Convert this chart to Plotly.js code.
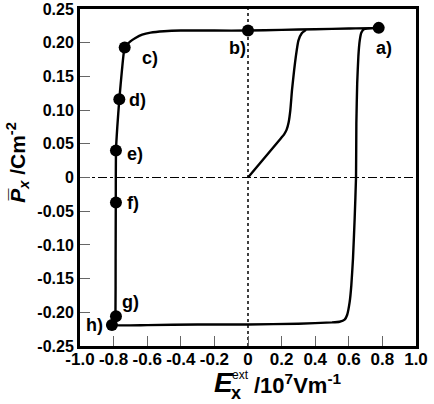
<!DOCTYPE html>
<html>
<head>
<meta charset="utf-8">
<script src="https://cdn.plot.ly/plotly-3.0.1.min.js"></script>
<style>
  html, body { margin: 0; padding: 0; background: #fff; }
  #chart { width: 434px; height: 404px; }
</style>
</head>
<body>
<div id="chart"></div>
<script>
// Hysteresis loop: polarization P_x versus applied field E_x^ext
// Outer loop, traversed a) -> b) -> ... -> h) -> lower branch -> back up to a)
const loopE = [0.78, 0.6, 0.4, 0.2, 0, -0.2, -0.4, -0.5, -0.58, -0.63, -0.67, -0.70, -0.734,
  -0.75, -0.766, -0.778, -0.786, -0.787, -0.788, -0.789, -0.792, -0.81,
  -0.6, -0.3, 0, 0.3, 0.5, 0.545, 0.575, 0.59, 0.605, 0.615, 0.625, 0.635, 0.643,
  0.645, 0.65, 0.657, 0.665, 0.675, 0.69, 0.78];
const loopP = [0.222, 0.221, 0.220, 0.219, 0.218, 0.218, 0.218, 0.217, 0.215, 0.212, 0.207, 0.202, 0.193,
  0.16, 0.116, 0.075, 0.040, -0.037, -0.12, -0.206, -0.214, -0.219,
  -0.219, -0.218, -0.218, -0.217, -0.215, -0.214, -0.211, -0.204, -0.185, -0.16, -0.12, -0.06, 0.0,
  0.08, 0.14, 0.18, 0.203, 0.215, 0.220, 0.222];

// Initial (virgin) curve starting at the origin
const virginE = [0, 0.195, 0.215, 0.23, 0.242, 0.252, 0.262, 0.275, 0.285, 0.30, 0.32, 0.345];
const virginP = [0, 0.058, 0.064, 0.071, 0.082, 0.10, 0.13, 0.16, 0.18, 0.203, 0.214, 0.219];

// Labelled states along the loop
const stateNames = ['a)', 'b)', 'c)', 'd)', 'e)', 'f)', 'g)', 'h)'];
const stateE = [0.778, 0, -0.734, -0.766, -0.786, -0.786, -0.786, -0.81];
const stateP = [0.222, 0.218, 0.193, 0.116, 0.040, -0.037, -0.206, -0.219];
// label placement (pixels) relative to each state
const labelDx = [5, -11, 25, 18, 19, 17, 15, -17];
const labelDy = [-20, -17, -11, -1, -3, -1, 14, 0];

// Axis ticks
const xTicks = [-1.0, -0.8, -0.6, -0.4, -0.2, 0, 0.2, 0.4, 0.6, 0.8, 1.0];
const xTickText = ['-1.0', '-0.8', '-0.6', '-0.4', '-0.2', '0', '0.2', '0.4', '0.6', '0.8', '1.0'];
const yTicks = [-0.25, -0.20, -0.15, -0.10, -0.05, 0, 0.05, 0.10, 0.15, 0.20, 0.25];
const yTickText = ['-0.25', '-0.20', '-0.15', '-0.10', '-0.05', '0', '0.05', '0.10', '0.15', '0.20', '0.25'];

const FONT = 'Liberation Sans, Arial, sans-serif';
const bold = s => '<b>' + s + '</b>';

const traces = [
  {
    x: loopE, y: loopP, mode: 'lines', type: 'scatter',
    line: { color: '#000', width: 2.4, shape: 'spline', smoothing: 0.4 },
    hoverinfo: 'skip'
  },
  {
    x: virginE, y: virginP, mode: 'lines', type: 'scatter',
    line: { color: '#000', width: 2.4, shape: 'spline', smoothing: 0.5 },
    hoverinfo: 'skip'
  },
  {
    x: stateE, y: stateP, mode: 'markers', type: 'scatter',
    marker: { color: '#000', size: 12 },
    text: stateNames, hoverinfo: 'text'
  }
];

const annotations = stateNames.map((name, i) => ({
  x: stateE[i], y: stateP[i], xref: 'x', yref: 'y',
  text: bold(name), showarrow: false,
  xshift: labelDx[i], yshift: labelDy[i],
  font: { family: FONT, size: 18, color: '#000', weight: 700 }
}));

// x-axis title: E with stacked sub/superscript, then the unit
annotations.push(
  { xref: 'paper', yref: 'paper', x: 0.392, y: -0.108, xanchor: 'left', yanchor: 'middle',
    text: '<b><i>E</i></b>', showarrow: false,
    font: { family: FONT, size: 28, color: '#000', weight: 700 } },
  { xref: 'paper', yref: 'paper', x: 0.442, y: -0.138, xanchor: 'left', yanchor: 'middle',
    text: '<b>x</b>', showarrow: false,
    font: { family: FONT, size: 18, color: '#000', weight: 700 } },
  { xref: 'paper', yref: 'paper', x: 0.446, y: -0.086, xanchor: 'left', yanchor: 'middle',
    text: 'ext', showarrow: false,
    font: { family: FONT, size: 12, color: '#000' } },
  { xref: 'paper', yref: 'paper', x: 0.512, y: -0.114, xanchor: 'left', yanchor: 'middle',
    text: '<b>/10<sup>7</sup>Vm<sup>-1</sup></b>', showarrow: false,
    font: { family: FONT, size: 22, color: '#000', weight: 700 } },
  // y-axis title
  { xref: 'paper', yref: 'paper', x: -0.185, y: 0.546, xanchor: 'center', yanchor: 'middle',
    textangle: -90,
    text: '<b><i>P\u0305</i><sub><i>x</i></sub> /Cm<sup>-2</sup></b>', showarrow: false,
    font: { family: FONT, size: 21, color: '#000', weight: 700 } }
);

const layout = {
  width: 434, height: 404,
  margin: { l: 80, r: 18, t: 9, b: 58 },
  paper_bgcolor: '#fff', plot_bgcolor: '#fff',
  showlegend: false,
  font: { family: FONT, color: '#000' },
  xaxis: {
    range: [-1.0, 1.0], tickvals: xTicks, ticktext: xTickText.map(bold),
    ticks: 'inside', ticklen: 10, tickwidth: 1, tickcolor: '#666',
    showline: true, linewidth: 3, linecolor: '#000', mirror: true,
    showgrid: false, zeroline: false,
    tickfont: { family: FONT, size: 17, color: '#000', weight: 700 },
    ticklabelstandoff: -4
  },
  yaxis: {
    range: [-0.25, 0.25], tickvals: yTicks, ticktext: yTickText.map(bold),
    ticks: 'inside', ticklen: 10, tickwidth: 1, tickcolor: '#666',
    showline: true, linewidth: 3, linecolor: '#000', mirror: true,
    showgrid: false, zeroline: false,
    tickfont: { family: FONT, size: 16, color: '#000', weight: 700 }
  },
  shapes: [
    { type: 'line', xref: 'x', yref: 'y', x0: -1, x1: 1, y0: 0, y1: 0,
      line: { color: '#000', width: 1, dash: 'dashdot' }, layer: 'below' },
    { type: 'line', xref: 'x', yref: 'y', x0: 0, x1: 0, y0: -0.25, y1: 0.25,
      line: { color: '#000', width: 1.5, dash: 'dot' }, layer: 'below' }
  ],
  annotations: annotations
};

Plotly.newPlot('chart', traces, layout, { displayModeBar: false, staticPlot: true });
</script>
</body>
</html>
